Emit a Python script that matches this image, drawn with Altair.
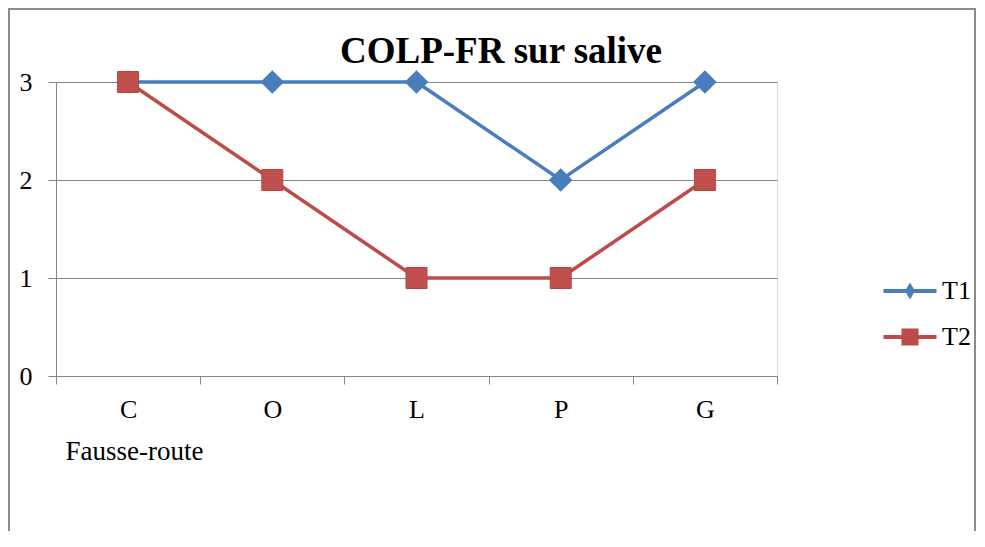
import altair as alt
import pandas as pd

# ---- data ----
categories = ["C", "O", "L", "P", "G"]
t1_values = [3, 3, 3, 2, 3]
t2_values = [3, 2, 1, 1, 2]
series_names = ["T1", "T2"]
y_ticks = [0, 1, 2, 3]
title_text = "COLP-FR sur salive"
x_title = "Fausse-route"

rows = []
for s, vals in zip(series_names, [t1_values, t2_values]):
    for c, v in zip(categories, vals):
        rows.append({"cat": c, "series": s, "value": v})
df = pd.DataFrame(rows)

BLUE = "#4A7EBB"
RED = "#BE4B48"
GRAY = "#868686"
FONT = "Liberation Serif"

x_enc = alt.X(
    "cat:N",
    sort=categories,
    scale=alt.Scale(type="band", paddingInner=0, paddingOuter=0),
    axis=alt.Axis(
        labelAngle=0, labelFont=FONT, labelFontSize=26, labelColor="black",
        labelPadding=12, domainColor=GRAY, tickColor=GRAY, tickSize=8,
        tickBand="extent", grid=False,
        title=x_title, titleFont=FONT, titleFontSize=27, titleFontWeight="normal",
        titleColor="black", titleAnchor="start", titleAlign="left",
        titleBaseline="alphabetic", titleX=9, titleY=83,
    ),
)
y_enc = alt.Y(
    "value:Q",
    scale=alt.Scale(domain=[0, 3], nice=False),
    axis=alt.Axis(
        values=y_ticks, format="d", title=None, grid=True, gridColor=GRAY,
        domainColor=GRAY, tickColor=GRAY, tickSize=8, labelPadding=16,
        labelFont=FONT, labelFontSize=26, labelColor="black",
    ),
)

base = alt.Chart(df)
t1 = base.transform_filter(alt.datum.series == "T1")
t2 = base.transform_filter(alt.datum.series == "T2")

line_t1 = t1.mark_line(strokeWidth=3.5, color=BLUE).encode(x=x_enc, y=y_enc)
line_t2 = t2.mark_line(strokeWidth=3.5, color=RED).encode(x=x_enc, y=y_enc)

pts_t1 = t1.mark_point(
    shape="diamond", filled=True, size=560, color=BLUE, opacity=1
).encode(x=x_enc, y=y_enc)

pts_t2 = t2.mark_point(
    shape="square", filled=True, size=441, fill="#C0504D", stroke="#B8433F",
    strokeWidth=1, opacity=1
).encode(x=x_enc, y=y_enc)

# legend: an empty layer whose scales carry custom line+marker symbols (fill only)
diamond_path = "M-2.65,-0.2H2.65V0.2H-2.65Z M0,-0.85L0.5,0L0,0.85L-0.5,0Z"
square_path = "M-2.65,-0.2H2.65V0.2H-2.65Z M-0.85,-0.85H0.85V0.85H-0.85Z"
leg = alt.Legend(
    orient="none", legendX=841, legendY=196, padding=0, title=None,
    labelFont=FONT, labelFontSize=26, labelColor="black", labelOffset=19,
    rowPadding=20, symbolSize=400, symbolStrokeWidth=0, symbolOpacity=1,
)
legend_layer = base.transform_filter("datum.value < 0").mark_point(
    filled=True, size=400, opacity=1
).encode(
    x=x_enc, y=y_enc,
    shape=alt.Shape("series:N", scale=alt.Scale(domain=series_names, range=[diamond_path, square_path]), legend=leg),
    color=alt.Color("series:N", scale=alt.Scale(domain=series_names, range=[BLUE, RED]), legend=leg),
)

frame = alt.Chart(pd.DataFrame({"k": [0]})).mark_rect(
    fill="transparent", stroke="#8C8C8C", strokeWidth=2
).encode(x=alt.value(-47), x2=alt.value(919), y=alt.value(-73), y2=alt.value(700))

title = alt.Chart(pd.DataFrame({"t": [title_text]})).mark_text(
    font=FONT, fontSize=37, fontWeight="bold", align="center",
    baseline="alphabetic", color="black"
).encode(text="t:N", x=alt.value(445), y=alt.value(-19))

chart = alt.layer(frame, line_t1, line_t2, pts_t1, pts_t2, legend_layer, title).properties(
    width=721, height=294,
    padding={"left": 48, "top": 74, "right": 200, "bottom": 155},
    autosize=alt.AutoSizeParams(type="none"),
).configure_view(strokeWidth=0).configure(background="white")

chart.save("out.html", embed_options={"renderer": "svg", "actions": False})
